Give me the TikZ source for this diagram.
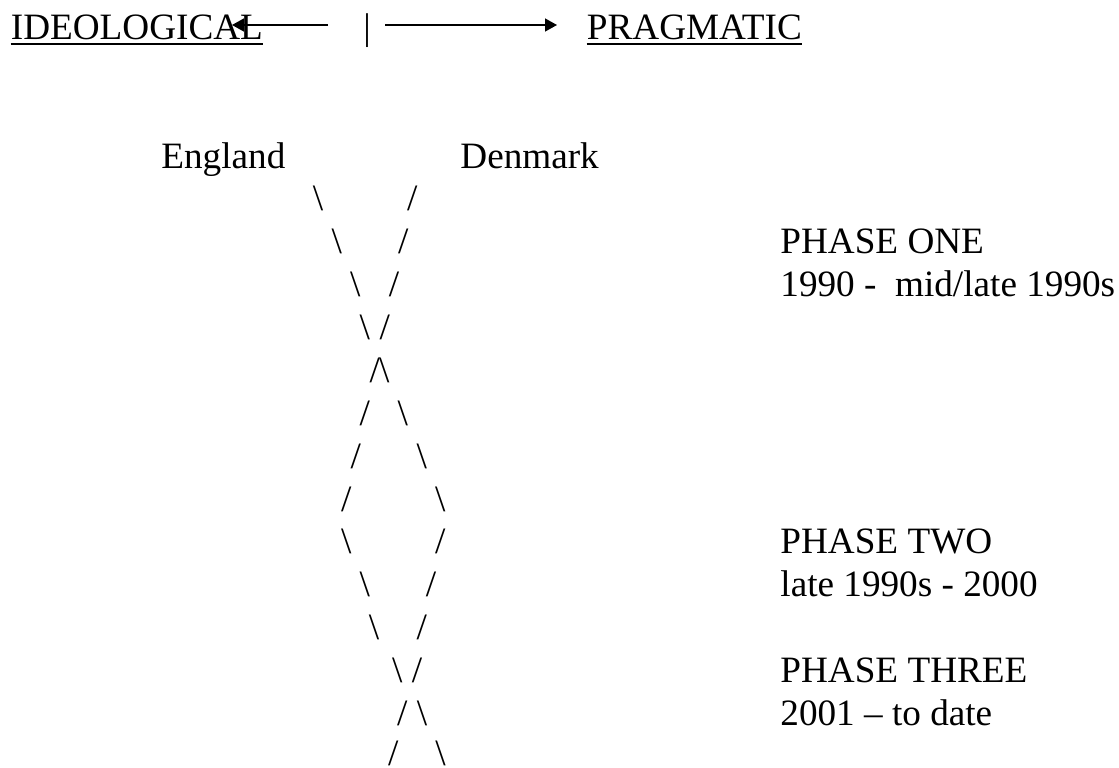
\documentclass[tikz,border=0pt]{standalone}
\usepackage{fontspec}
\setmainfont{Liberation Serif}
\usepackage{tikz}
\usetikzlibrary{arrows.meta}
\usetikzlibrary{calc}

\begin{document}
\begin{tikzpicture}[x=0.5pt, y=-0.5pt,
        every node/.style={inner sep=0, font=\rmfamily\fontsize{18.6}{21.4}\selectfont},
        word/.style={anchor=base west},
        glyph/.style={anchor=base},
        uline/.style={line width=1pt},
        pointer/.style={line width=0.7pt, -{Triangle[length=6pt, width=6.5pt]}}]
            \useasboundingbox (0,0) rectangle (1119,767);
            % scale along the top
            \node[word] (ideo) at (10.5,39.5) {IDEOLOGICAL};
            \node[word] (prag) at (586.5,39.5) {PRAGMATIC};
            \node[glyph] (mid) at (367,39.5) {|};
            \coordinate (lfrom) at (328,25);
            \coordinate (lto) at (232,25);
            \coordinate (rfrom) at (385,25);
            \coordinate (rto) at (557,25);
            \draw[pointer] (lfrom) -- (lto);
            \draw[pointer] (rfrom) -- (rto);
            \draw[uline] ($(ideo.base west)+(0,4.5)$) -- ($(ideo.base east)+(0,4.5)$);
            \draw[uline] ($(prag.base west)+(0,4.5)$) -- ($(prag.base east)+(0,4.5)$);
            % countries
            \node[word] (eng) at (161,168) {England};
            \node[word] (den) at (460,168) {Denmark};
            % the two strands, row by row
            \node[glyph] (l1) at (318,210.9) {\textbackslash};
            \node[glyph] (r1) at (412.3,210.9) {/};
            \node[glyph] (l2) at (336.8,253.8) {\textbackslash};
            \node[glyph] (r2) at (403.2,253.8) {/};
            \node[glyph] (l3) at (355.3,296.6) {\textbackslash};
            \node[glyph] (r3) at (394,296.6) {/};
            \node[glyph] (l4) at (364.7,339.5) {\textbackslash};
            \node[glyph] (r4) at (384.7,339.5) {/};
            \node[glyph] (l5) at (374.7,382.4) {/};
            \node[glyph] (r5) at (384.2,382.4) {\textbackslash};
            \node[glyph] (l6) at (364.8,425.3) {/};
            \node[glyph] (r6) at (402.8,425.3) {\textbackslash};
            \node[glyph] (l7) at (355.7,468.2) {/};
            \node[glyph] (r7) at (421.7,468.2) {\textbackslash};
            \node[glyph] (l8) at (346.3,511) {/};
            \node[glyph] (r8) at (440.3,511) {\textbackslash};
            \node[glyph] (l9) at (346.2,553.9) {\textbackslash};
            \node[glyph] (r9) at (440.3,553.9) {/};
            \node[glyph] (l10) at (364.8,596.8) {\textbackslash};
            \node[glyph] (r10) at (431,596.8) {/};
            \node[glyph] (l11) at (374,639.7) {\textbackslash};
            \node[glyph] (r11) at (421.8,639.7) {/};
            \node[glyph] (l12) at (397.2,682.6) {\textbackslash};
            \node[glyph] (r12) at (417,682.6) {/};
            \node[glyph] (l13) at (402.2,725.4) {/};
            \node[glyph] (r13) at (422,725.4) {\textbackslash};
            \node[glyph] (l14) at (393.2,765.5) {/};
            \node[glyph] (r14) at (440.5,765.5) {\textbackslash};
            % phases
            \node[word] (p1) at (780,253.8) {PHASE ONE};
            \node[word] (p1d) at (780,296.6) {1990 - \ mid/late 1990s};
            \node[word] (p2) at (780,553.9) {PHASE TWO};
            \node[word] (p2d) at (780,596.8) {late 1990s - 2000};
            \node[word] (p3) at (780,682.6) {PHASE THREE};
            \node[word] (p3d) at (780,725.4) {2001 -- to date};
\end{tikzpicture}
\end{document}
